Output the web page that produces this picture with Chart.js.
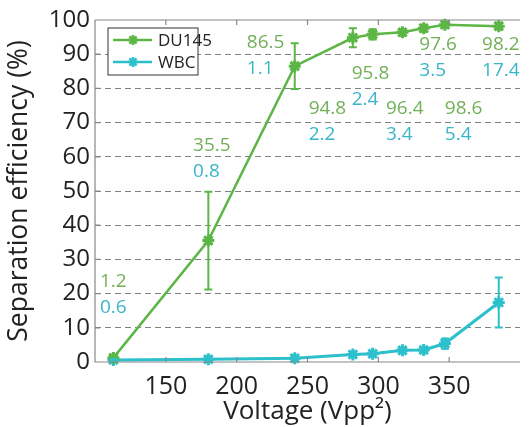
<!DOCTYPE html>
<html>
<head>
<meta charset="utf-8">
<script src="https://cdn.jsdelivr.net/npm/chart.js@4/dist/chart.umd.min.js"></script>
<style>
  body { margin: 0; background: #fff; }
</style>
</head>
<body>
<canvas id="chart" width="529" height="427"></canvas>
<script>
// data
var voltage = [113, 180, 241, 282, 296, 317, 332, 347, 385];
var du145 = [1.2, 35.5, 86.5, 94.8, 95.8, 96.4, 97.6, 98.6, 98.2];
var wbc = [0.6, 0.8, 1.1, 2.2, 2.4, 3.4, 3.5, 5.4, 17.4];
var du145Err = [0.5, 14.3, 6.7, 2.8, 1.5, 1.0, 1.0, 0.8, 1.0];
var wbcErr = [0.3, 0.3, 0.3, 0.6, 0.8, 0.5, 0.5, 1.5, 7.3];
var xTicks = [150, 200, 250, 300, 350];
var yTicks = [0, 10, 20, 30, 40, 50, 60, 70, 80, 90, 100];

// where the value labels start (data units, left edge / middle)
var labelX = [103.5, 169.2, 207.2, 250.8, 281.2, 305.4, 328.9, 346.9, 373.2];
var labelY = [23.5, 63.3, 93.3, 74.2, 84.2, 74.2, 92.7, 74.2, 92.7];

var green = '#5cb646';
var cyan = '#2cc0cc';
var greenText = '#72b058';
var cyanText = '#38b6c8';
var font = '"Open Sans", sans-serif';

function pts(ys) {
  return voltage.map(function (v, i) { return { x: v, y: ys[i] }; });
}

var extras = {
  id: 'extras',
  afterDatasetsDraw: function (chart) {
    var c = chart.ctx, xs = chart.scales.x, ys = chart.scales.y;
    var a = chart.chartArea;
    c.save();
    // error bars
    [du145Err, wbcErr].forEach(function (err, d) {
      var ds = chart.data.datasets[d];
      c.strokeStyle = ds.borderColor;
      c.lineWidth = 2;
      ds.data.forEach(function (p, i) {
        var px = xs.getPixelForValue(p.x);
        var top = ys.getPixelForValue(p.y + err[i]);
        var bot = ys.getPixelForValue(p.y - err[i]);
        c.beginPath();
        c.moveTo(px, top); c.lineTo(px, bot);
        c.moveTo(px - 4, top); c.lineTo(px + 4, top);
        c.moveTo(px - 4, bot); c.lineTo(px + 4, bot);
        c.stroke();
      });
    });
    // frame + inward ticks
    c.strokeStyle = '#888';
    c.lineWidth = 1.2;
    c.beginPath();
    c.moveTo(a.left, a.top); c.lineTo(a.right, a.top);
    c.moveTo(a.left, a.top); c.lineTo(a.left, a.bottom);
    c.lineTo(a.right, a.bottom);
    xTicks.forEach(function (t) {
      var px = xs.getPixelForValue(t);
      c.moveTo(px, a.bottom); c.lineTo(px, a.bottom - 5);
      c.moveTo(px, a.top); c.lineTo(px, a.top + 5);
    });
    yTicks.forEach(function (t) {
      var py = ys.getPixelForValue(t);
      c.moveTo(a.left, py); c.lineTo(a.left + 5, py);
    });
    c.stroke();
    // value labels
    c.font = '19px ' + font;
    c.textAlign = 'left';
    c.textBaseline = 'middle';
    labelX.forEach(function (lx, i) {
      var px = xs.getPixelForValue(lx);
      var py = ys.getPixelForValue(labelY[i]);
      c.fillStyle = greenText;
      c.fillText(du145[i].toFixed(1), px, py);
      c.fillStyle = cyanText;
      c.fillText(wbc[i].toFixed(1), px, py + 26);
    });
    // legend
    c.fillStyle = '#fff';
    c.fillRect(108, 28, 90, 47);
    c.strokeStyle = '#333';
    c.lineWidth = 1;
    c.strokeRect(108, 28, 90, 47);
    c.font = '17px ' + font;
    c.textAlign = 'left';
    chart.data.datasets.forEach(function (ds, d) {
      var ly = 40 + d * 22;
      c.strokeStyle = ds.borderColor;
      c.lineWidth = 2.5;
      c.beginPath(); c.moveTo(113, ly); c.lineTo(152, ly); c.stroke();
      Chart.helpers.drawPoint(c, { pointStyle: 'star', radius: 5, borderWidth: 2.5 }, 133, ly);
      c.fillStyle = '#222';
      c.fillText(ds.label, 158, ly + 1);
    });
    c.restore();
  }
};

new Chart(document.getElementById('chart'), {
  type: 'line',
  data: {
    datasets: [{
      label: 'DU145',
      data: pts(du145),
      borderColor: green,
      backgroundColor: green,
      borderWidth: 2.5,
      pointStyle: 'star',
      pointRadius: 6,
      pointBorderWidth: 3,
      clip: false
    }, {
      label: 'WBC',
      data: pts(wbc),
      borderColor: cyan,
      backgroundColor: cyan,
      borderWidth: 3,
      pointStyle: 'star',
      pointRadius: 6,
      pointBorderWidth: 3,
      clip: false
    }]
  },
  options: {
    responsive: false,
    animation: false,
    layout: { padding: { top: 20, right: 1, left: 0, bottom: 0 } },
    plugins: { legend: { display: false }, tooltip: { enabled: false } },
    scales: {
      x: {
        type: 'linear',
        min: 100,
        max: 400,
        afterBuildTicks: function (s) { s.ticks = xTicks.map(function (v) { return { value: v }; }); },
        afterFit: function (s) { s.height = 65; },
        grid: { display: false },
        border: { display: false },
        ticks: { color: '#222', font: { family: font, size: 25 }, padding: 2, maxRotation: 0 },
        title: { display: true, text: 'Voltage (Vpp\u00b2)', color: '#222', font: { family: font, size: 26 }, padding: { top: -10, bottom: 0 } }
      },
      y: {
        min: 0,
        max: 100,
        afterBuildTicks: function (s) { s.ticks = yTicks.map(function (v) { return { value: v }; }); },
        afterFit: function (s) { s.width = 95; },
        grid: {
          drawTicks: false,
          color: function (ctx) { return (ctx.tick.value === 0 || ctx.tick.value === 100) ? 'rgba(0,0,0,0)' : '#808080'; },
          lineWidth: 1
        },
        border: { display: false, dash: [6, 4] },
        ticks: { color: '#222', font: { family: font, size: 24 }, padding: 5 },
        title: { display: true, text: 'Separation efficiency (%)', color: '#222', font: { family: font, size: 26.5 }, padding: { bottom: 0 } }
      }
    }
  },
  plugins: [extras]
});
</script>
</body>
</html>
